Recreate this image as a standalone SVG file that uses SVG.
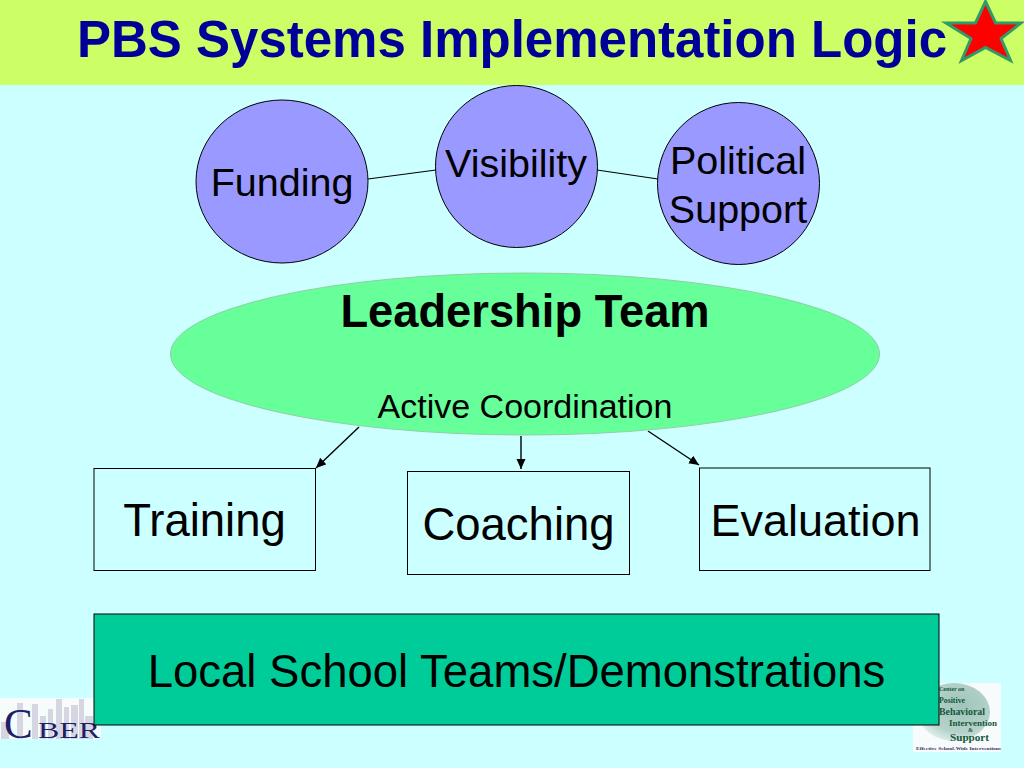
<svg xmlns="http://www.w3.org/2000/svg" width="1024" height="768" viewBox="0 0 1024 768">
<defs>
<marker id="arrow" markerUnits="userSpaceOnUse" markerWidth="11" markerHeight="10" refX="10" refY="4.5" orient="auto"><path d="M0,0L10,4.500L0,9Z" fill="#000"/></marker>
<radialGradient id="globe" cx="0.6" cy="0.4" r="0.65"><stop offset="0" stop-color="#9fc4ba"/><stop offset="0.7" stop-color="#b5d2ca"/><stop offset="1" stop-color="#e2efec"/></radialGradient>
</defs>
<style>
text{font-family:"Liberation Sans",Arial,sans-serif;fill:#000;text-anchor:middle}
.c{fill:#9999ff;stroke:#000;stroke-width:1}
.b{fill:none;stroke:#000;stroke-width:1}
.l{fill:none;stroke:#000;stroke-width:1.2}
.a{fill:none;stroke:#000;stroke-width:1.4;marker-end:url(#arrow)}
.t39{font-size:39.500px}.t45{font-size:45.500px}
.bar{fill:#d6d6e2}
.cb{font-family:"Liberation Serif",serif;fill:#1f1f66;text-anchor:start}
.sv{font-family:"Liberation Serif",serif;font-weight:bold;fill:#14573a;text-anchor:start}
</style>
<rect width="1024" height="768" fill="#ccffff"/>
<g id="header">
<rect width="1024" height="85" fill="#ccff66"/>
<text x="512" y="57" font-size="51" font-weight="bold" style="fill:#000099">PBS Systems Implementation Logic</text>
<polygon points="985.500,1.500 995.500,23 1021,23 1001,38.500 1010.500,60.500 985.500,47.500 961.500,60.500 971,38.500 946,23 975.500,23" fill="#ff0000" stroke="#339966" stroke-width="3"/>
</g>
<g id="connectors">
<line class="l" x1="368" y1="179" x2="436" y2="170"/>
<line class="l" x1="597" y1="170" x2="658" y2="179"/>
<line class="a" x1="359" y1="427" x2="316" y2="468"/>
<line class="a" x1="521" y1="436" x2="521" y2="469"/>
<line class="a" x1="648" y1="431" x2="699" y2="465"/>
</g>
<g id="funding"><ellipse class="c" cx="282" cy="181.500" rx="86" ry="81.500"/><text class="t39" x="282" y="196">Funding</text></g>
<g id="visibility"><circle class="c" cx="516.500" cy="166.500" r="81"/><text class="t39" x="516" y="177">Visibility</text></g>
<g id="political-support"><circle class="c" cx="738.500" cy="183.500" r="81"/><text class="t39" x="738" y="174">Political</text><text class="t39" x="738" y="223">Support</text></g>
<g id="leadership-team"><ellipse cx="525" cy="354" rx="354.500" ry="81" fill="#66ff99" stroke="#8fd0a0" stroke-width="1"/><text x="525" y="327" font-size="45.300" font-weight="bold">Leadership Team</text><text x="525" y="418" font-size="34">Active Coordination</text></g>
<g id="training"><rect class="b" x="94" y="468.500" width="221.500" height="102"/><text class="t45" x="204.500" y="536">Training</text></g>
<g id="coaching"><rect class="b" x="407.500" y="471.500" width="222" height="103"/><text class="t45" x="518.500" y="540">Coaching</text></g>
<g id="evaluation"><rect class="b" x="699.500" y="468" width="230.500" height="102.500"/><text x="815.500" y="536" font-size="45">Evaluation</text></g>
<g id="cber-logo">
<rect x="0" y="698" width="101" height="41" fill="#f6fbfb"/>
<rect class="bar" x="1" y="722" width="8" height="17"/><rect class="bar" x="17" y="703" width="6" height="36"/><rect class="bar" x="32" y="704" width="6" height="35"/><rect class="bar" x="40" y="716" width="6" height="23"/><rect class="bar" x="48" y="709" width="5" height="30"/><rect class="bar" x="56" y="699" width="6" height="40"/><rect class="bar" x="64" y="707" width="5" height="32"/><rect class="bar" x="71" y="705" width="7" height="34"/><rect class="bar" x="79" y="699" width="5" height="40"/><rect class="bar" x="85" y="716" width="8" height="23"/>
<text class="cb" x="4" y="738" font-size="43">C</text>
<text class="cb" x="38" y="738" font-size="24" textLength="62" lengthAdjust="spacingAndGlyphs">BER</text>
</g>
<g id="pbis-logo">
<rect x="913" y="683" width="88" height="69" fill="#f8fbfb"/>
<ellipse cx="954" cy="712" rx="36" ry="29" fill="url(#globe)"/>
<text class="sv" x="939" y="691" font-size="6">Center on</text>
<text class="sv" x="939" y="703" font-size="9" textLength="26" lengthAdjust="spacingAndGlyphs">Positive</text>
<text class="sv" x="939" y="715" font-size="10" textLength="46" lengthAdjust="spacingAndGlyphs">Behavioral</text>
<text class="sv" x="949" y="726" font-size="9" textLength="48" lengthAdjust="spacingAndGlyphs">Intervention</text>
<text class="sv" x="968" y="732" font-size="6">&amp;</text>
<text class="sv" x="950" y="741" font-size="10" textLength="39" lengthAdjust="spacingAndGlyphs">Support</text>
<text class="sv" x="916" y="749.500" font-size="5" textLength="85" lengthAdjust="spacingAndGlyphs" style="fill:#333366">Effective School-Wide Interventions</text>
</g>
<g id="local-school-teams"><rect x="94" y="614" width="845" height="111" fill="#00cc99" stroke="#000" stroke-width="1"/><text x="516.500" y="687" font-size="45.500">Local School Teams/Demonstrations</text></g>
</svg>
